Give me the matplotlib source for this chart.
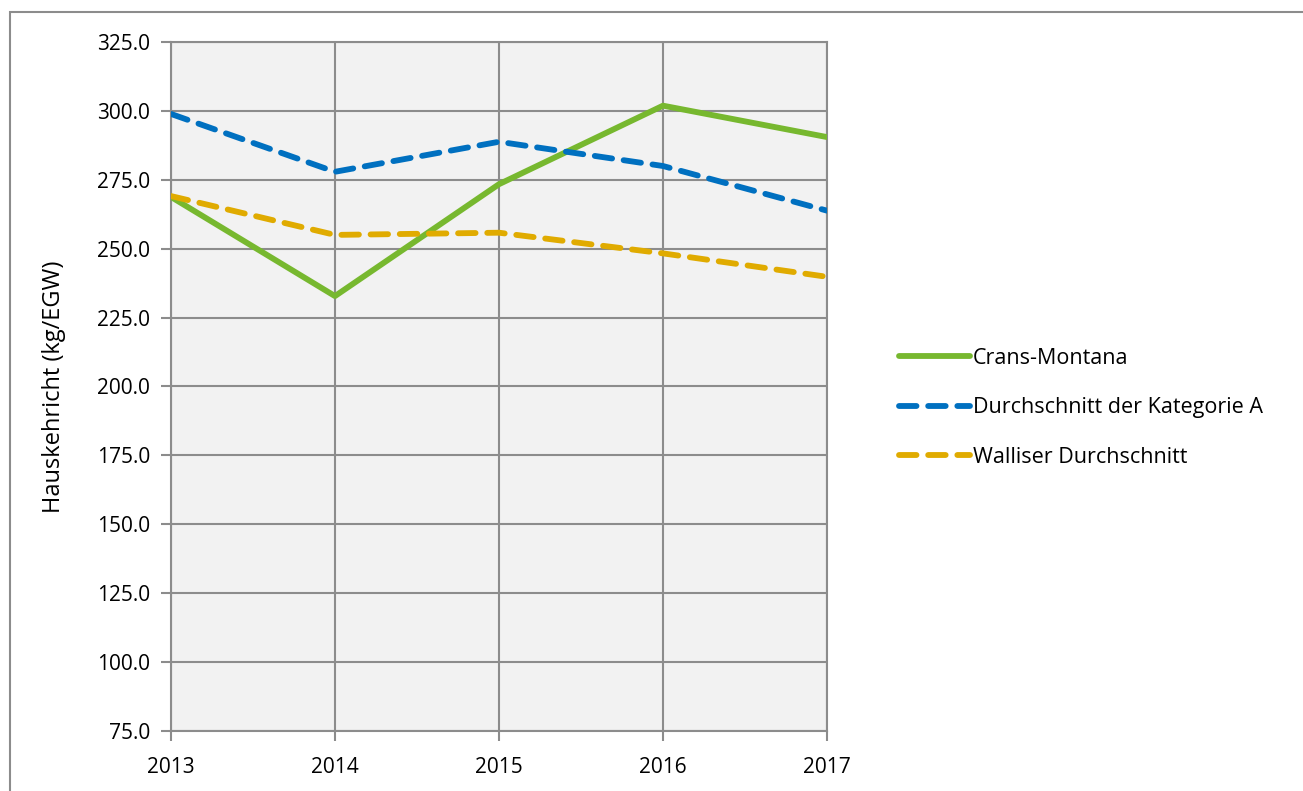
import matplotlib.pyplot as plt
from matplotlib.patches import Rectangle

years = [2013, 2014, 2015, 2016, 2017]
crans_montana = [268.8, 232.8, 273.4, 301.9, 290.5]
kategorie_a = [298.9, 277.9, 288.8, 280.0, 263.8]
wallis = [269.1, 255.0, 255.8, 248.3, 239.8]
y_ticks = [75, 100, 125, 150, 175, 200, 225, 250, 275, 300, 325]

plt.rcParams['font.family'] = ['Open Sans', 'DejaVu Sans']

fig = plt.figure(figsize=(13.03, 7.91), dpi=100)
ax = fig.add_axes([0.1312, 0.0759, 0.5035, 0.871])
ax.set_facecolor('#f2f2f2')

ax.plot(years, crans_montana, color='#77b82f', lw=4.2, solid_capstyle='round',
        label='Crans-Montana', zorder=3)
ax.plot(years, kategorie_a, color='#0070c0', lw=4.2, dashes=(3.0, 2.0),
        dash_capstyle='round', label='Durchschnitt der Kategorie A', zorder=3)
ax.plot(years, wallis, color='#e0ab00', lw=4.2, dashes=(3.0, 2.0),
        dash_capstyle='round', label='Walliser Durchschnitt', zorder=3)

ax.set_xlim(2013, 2017)
ax.set_ylim(75, 325)
ax.set_xticks(years)
ax.set_yticks(y_ticks)
ax.set_yticklabels([f'{v:.1f}' for v in y_ticks])
ax.grid(True, color='#8c8c8c', lw=1.5)
ax.set_axisbelow(True)
for s in ax.spines.values():
    s.set_color('#8c8c8c')
    s.set_linewidth(1.5)
ax.tick_params(axis='both', colors='#8c8c8c', labelcolor='black', labelsize=15,
               length=7, width=1.5)
ax.tick_params(axis='x', pad=12)
ax.tick_params(axis='y', pad=8)
ax.set_ylabel('Hauskehricht (kg/EGW)', fontsize=17, labelpad=22)

fig.legend(loc='center left', bbox_to_anchor=(0.675, 0.4845), frameon=False,
           fontsize=15.5, handlelength=3.3, handletextpad=0.15, labelspacing=1.33)

fig.patches.append(Rectangle((10 / 1303, -0.05), 1.1, 1 - 12 / 791 + 0.05,
                             transform=fig.transFigure, fill=False,
                             edgecolor='#8c8c8c', lw=1.5))

fig.savefig('out.png', dpi=100)
